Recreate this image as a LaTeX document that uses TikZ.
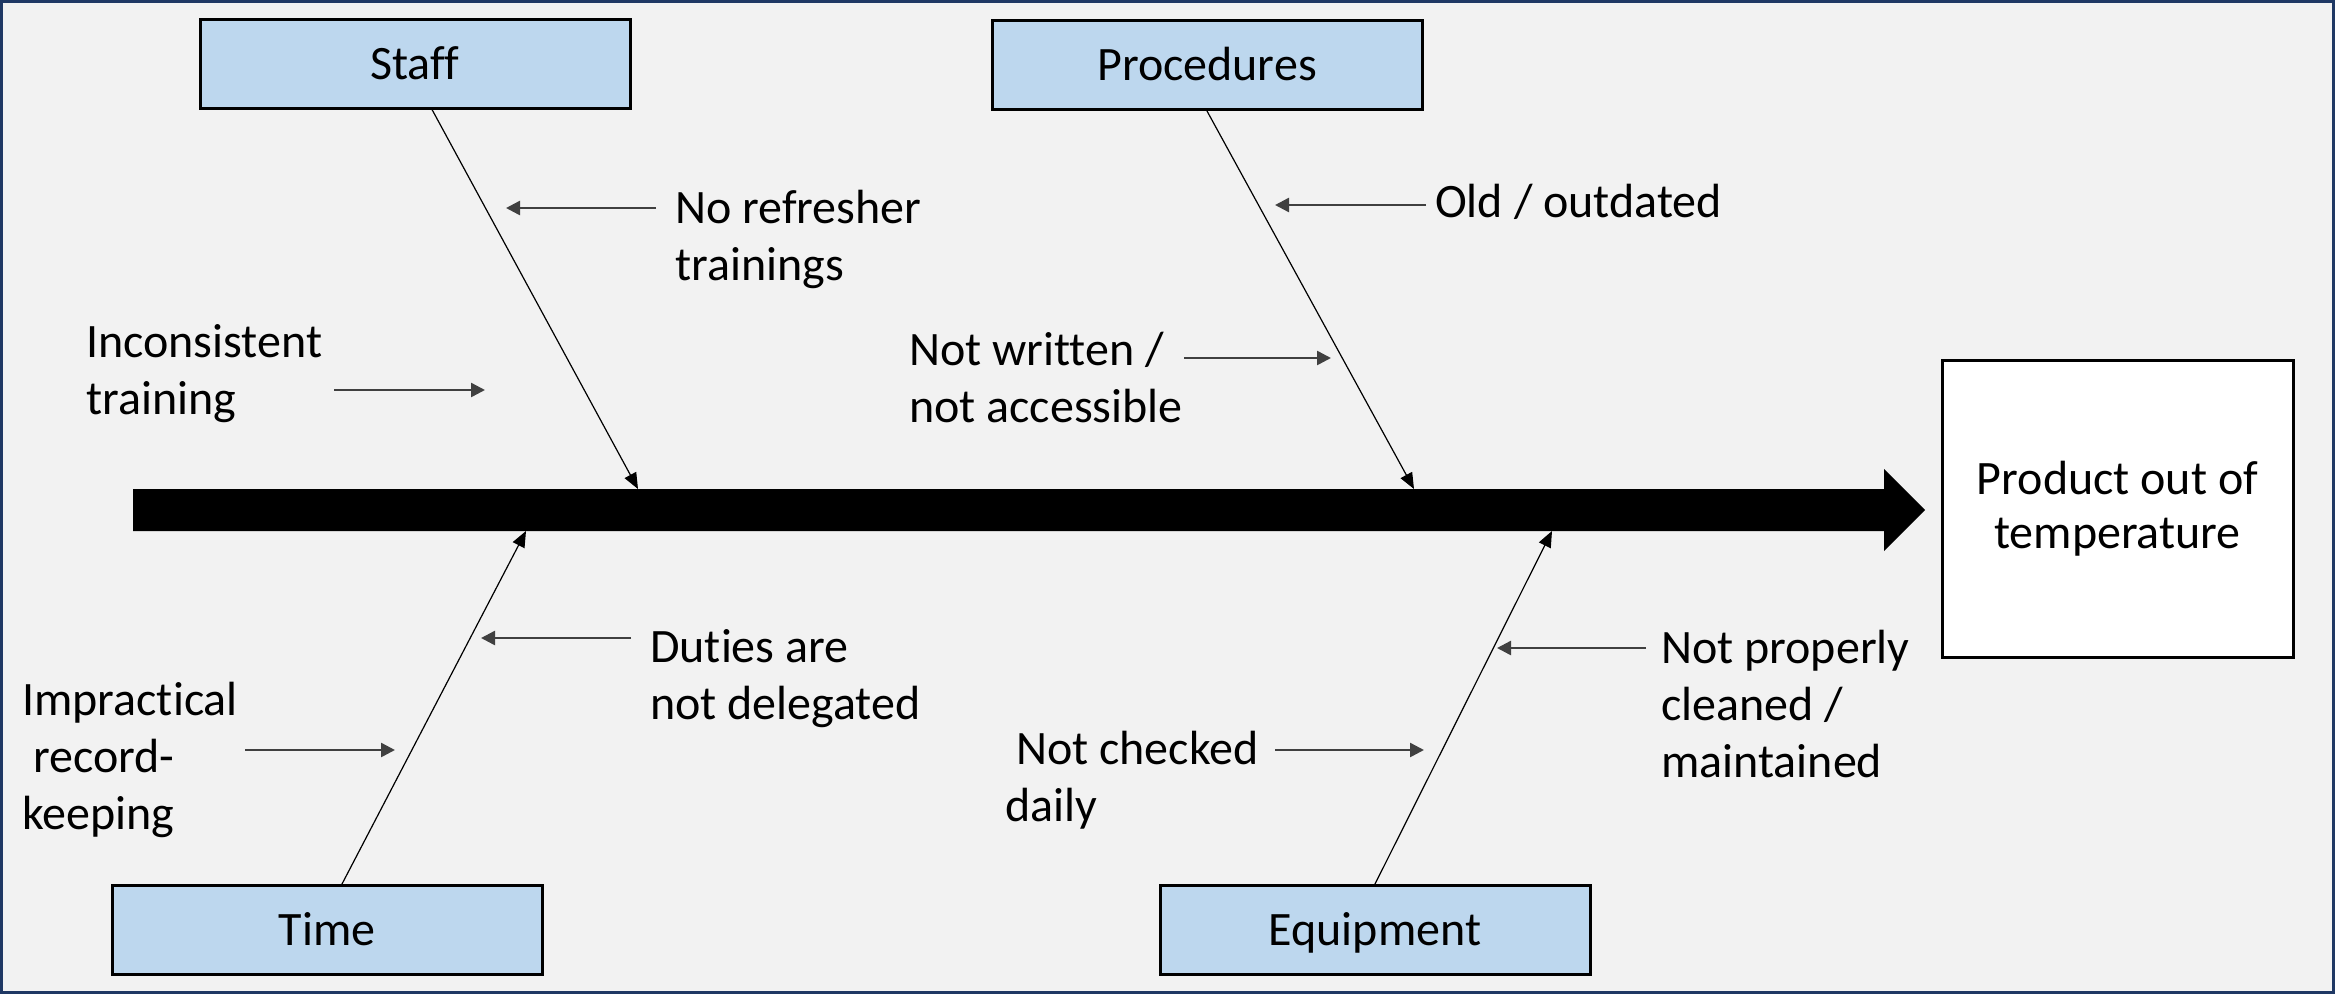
\documentclass[tikz,border=0pt]{standalone}
\usepackage{fontspec}
\setmainfont{Carlito}[Ligatures=NoCommon]
\usetikzlibrary{arrows.meta,positioning}
\definecolor{bgGray}{HTML}{F2F2F2}
\definecolor{frameBlue}{HTML}{1F3864}
\definecolor{catBlue}{HTML}{BDD7EE}
\definecolor{hintGray}{HTML}{404040}
\newcommand{\fishfont}{\fontsize{48}{57}\selectfont}

\tikzset{
  category/.style={draw=black, line width=3, fill=catBlue, minimum width=430,
    minimum height=89, inner sep=0, text height=31, text depth=0, font=\fishfont},
  effect/.style={draw=black, line width=3, fill=white, minimum width=351,
    minimum height=297, inner sep=0, align=center, font=\fishfont},
  cause/.style={anchor=base west, align=left, inner sep=0, font=\fishfont},
  bone/.style={line width=1.2, -{Triangle[length=16, width=13]}},
  hint/.style={line width=2.5, draw=hintGray, -{Triangle[length=14, width=14]}},
}

\begin{document}
\begin{tikzpicture}[x=1pt, y=-1pt]
    \useasboundingbox (0,0) rectangle (2335,994);
    \fill[bgGray] (0,0) rectangle (2335,994);
    \draw[frameBlue, line width=3] (1.5,1.5) rectangle (2333.5,992.5);

    % head and spine
    \node[effect] (effect) at (2117.5,508.5) {\raisebox{-3pt}{Product out of}\\temperature};
    \coordinate (tail) at (133,510);
    \fill (tail) ++(0,-21) -- ++(1751,0) -- ++(0,-20) -- ++(41,41)
        -- ++(-41,41) -- ++(0,-20) -- ++(-1751,0) -- cycle;

    % categories
    \node[category] (staff) at (415,63.5) {Staff};
    \node[category] (procedures) at (1207,65) {Procedures};
    \node[category] (time) at (327,930) {Time};
    \node[category] (equipment) at (1375,930) {Equipment};

    \coordinate (staffhit) at (638,489);
    \coordinate (prochit) at (1414,489);
    \coordinate (timehit) at (526,531);
    \coordinate (equiphit) at (1552,531);

    \draw[bone] ([xshift=17pt]staff.south) -- (staffhit);
    \draw[bone] (procedures.south) -- (prochit);
    \draw[bone] ([xshift=15pt]time.north) -- (timehit);
    \draw[bone] (equipment.north) -- (equiphit);

    % causes (anchored at the baseline of the last line)
    \node[cause] (refresher) at (675,280) {No refresher\\trainings};
    \node[cause] (inconsistent) at (86,414) {Inconsistent\\training};
    \node[cause] (outdated) at (1435,217) {Old / outdated};
    \node[cause] (notwritten) at (909,422) {Not written /\\not accessible};
    \node[cause] (duties) at (650,719) {Duties are\\not delegated};
    \node[cause] (impractical) at (22,829) {Impractical\\\ record-\\keeping};
    \node[cause] (notchecked) at (1005,821) {\ Not checked\\daily};
    \node[cause] (cleaned) at (1661,777) {Not properly\\cleaned /\\maintained};

    \coordinate (refresherA) at (656,208);
    \coordinate (refresherB) at (506,208);
    \coordinate (inconsistentA) at (334,390);
    \coordinate (inconsistentB) at (485,390);
    \coordinate (outdatedA) at (1426,205);
    \coordinate (outdatedB) at (1275,205);
    \coordinate (notwrittenA) at (1184,358);
    \coordinate (notwrittenB) at (1331,358);
    \coordinate (dutiesA) at (631,638);
    \coordinate (dutiesB) at (481,638);
    \coordinate (impracticalA) at (245,750);
    \coordinate (impracticalB) at (395,750);
    \coordinate (notcheckedA) at (1275,750);
    \coordinate (notcheckedB) at (1424,750);
    \coordinate (cleanedA) at (1646,648);
    \coordinate (cleanedB) at (1497,648);

    \foreach \c in {refresher,inconsistent,outdated,notwritten,duties,impractical,notchecked,cleaned}
        \draw[hint] (\c A) -- (\c B);

\end{tikzpicture}
\end{document}
